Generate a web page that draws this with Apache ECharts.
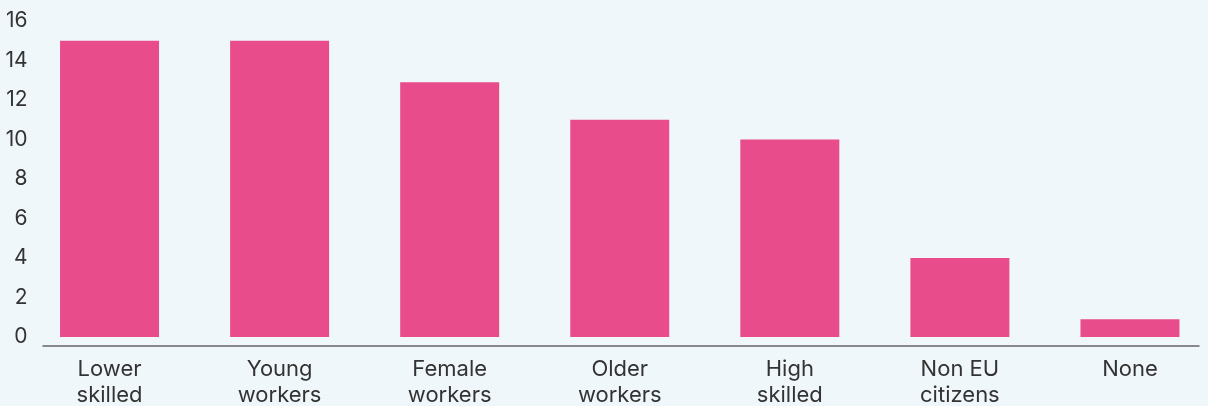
<!DOCTYPE html>
<html>
<head>
<meta charset="utf-8">
<script src="https://cdn.jsdelivr.net/npm/echarts@6/dist/echarts.min.js"></script>
<style>
  html, body { margin: 0; padding: 0; background: #f0f7fb; overflow: hidden; }
  #chart { width: 1215px; height: 406px; }
</style>
</head>
<body>
<div id="chart"></div>
<script>
// categories and values
const categories = ['Lower\nskilled', 'Young\nworkers', 'Female\nworkers', 'Older\nworkers', 'High\nskilled', 'Non EU\ncitizens', 'None']
const values = [15, 15, 12.9, 11, 10, 4, 0.9]
const yTicks = [0, 2, 4, 6, 8, 10, 12, 14, 16]

const chart = echarts.init(document.getElementById('chart'))
const font = 'Inter, "Noto Sans", sans-serif'

const option = {
  backgroundColor: '#f0f7fb',
  animation: false,
  grid: [
    // bars + y labels
    { left: 24.5, right: 0, top: 21, bottom: 69, outerBoundsMode: 'none', containLabel: false },
    // separate baseline, drawn a bit below the bars
    { left: 43, right: 16, top: 21, bottom: 60.5, outerBoundsMode: 'none', containLabel: false },
  ],
  xAxis: [
    {
      type: 'category',
      gridIndex: 0,
      data: categories,
      axisLine: { show: false },
      axisTick: { show: false },
      axisLabel: {
        color: '#333',
        fontFamily: font,
        fontSize: 22,
        lineHeight: 26,
        margin: 19,
      },
    },
    {
      type: 'category',
      gridIndex: 1,
      data: categories,
      axisLine: { show: true, lineStyle: { color: '#666', width: 1.5 } },
      axisTick: { show: false },
      axisLabel: { show: false },
    },
  ],
  yAxis: [
    {
      type: 'value',
      gridIndex: 0,
      min: yTicks[0],
      max: yTicks[yTicks.length - 1],
      interval: 2,
      axisLine: { show: false },
      axisTick: { show: false },
      splitLine: { show: false },
      axisLabel: {
        color: '#333',
        fontFamily: font,
        fontSize: 21,
        margin: -3,
      },
    },
    {
      type: 'value',
      gridIndex: 1,
      show: false,
      splitLine: { show: false },
    },
  ],
  series: [
    {
      type: 'bar',
      xAxisIndex: 0,
      yAxisIndex: 0,
      data: values,
      barWidth: 99,
      itemStyle: { color: '#e84c8b' },
    },
  ],
}

chart.setOption(option)
</script>
</body>
</html>
